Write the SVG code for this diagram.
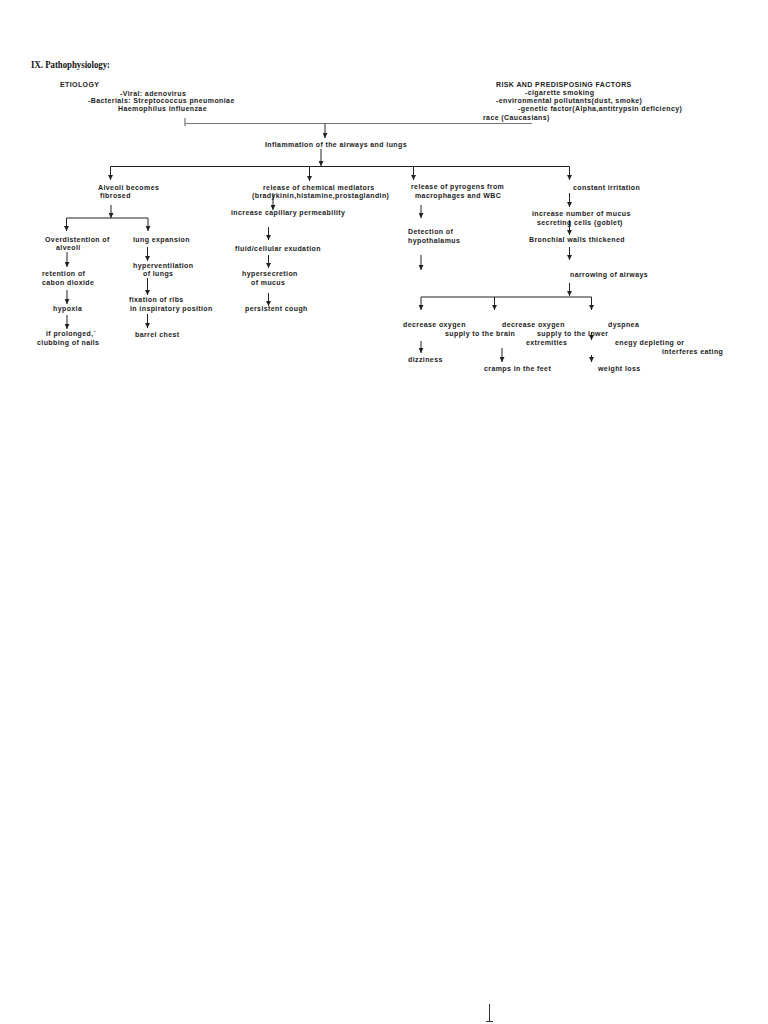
<svg xmlns="http://www.w3.org/2000/svg" width="768" height="1024" viewBox="0 0 768 1024">
<style>
text{font-family:"Liberation Sans",Arial,sans-serif;font-size:7px;font-weight:bold;fill:#222;letter-spacing:0.4px}
.h{font-family:"Liberation Serif","Times New Roman",serif;font-size:9.5px;font-weight:bold;fill:#111;letter-spacing:0}
.c line,.c polyline{stroke:#222;stroke-width:1;fill:none}
.a{marker-end:url(#ah)}
</style>
<defs>
<marker id="ah" viewBox="0 0 6 6" refX="6" refY="3" markerWidth="5" markerHeight="5" markerUnits="userSpaceOnUse" orient="auto"><path d="M0,0 L6,3 L0,6 z" fill="#222"/></marker>
</defs>
<rect width="768" height="1024" fill="#fff"/>
<text class="h" x="31" y="68" textLength="79" lengthAdjust="spacingAndGlyphs">IX. Pathophysiology:</text>

<g id="etiology">
<text x="60" y="86.5">ETIOLOGY</text>
<text x="120" y="95.5">-Viral: adenovirus</text>
<text x="88" y="103">-Bacterials: Streptococcus pneumoniae</text>
<text x="118" y="111">Haemophilus influenzae</text>
</g>
<g id="risk">
<text x="496" y="86.5">RISK AND PREDISPOSING FACTORS</text>
<text x="525" y="94.5">-cigarette smoking</text>
<text x="496" y="102.5">-environmental pollutants(dust, smoke)</text>
<text x="518" y="110.5">-genetic factor(Alpha,antitrypsin deficiency)</text>
<text x="483" y="119.5">race (Caucasians)</text>
</g>
<g id="inflammation"><text x="265" y="146.5">Inflammation of the airways and lungs</text></g>

<g id="alveoli"><text x="98" y="189.5">Alveoli becomes</text><text x="100" y="197.5">fibrosed</text></g>
<g id="overdistention"><text x="45" y="241.5">Overdistention of</text><text x="56" y="249.5">alveoli</text></g>
<g id="retention"><text x="42" y="275.5">retention of</text><text x="42" y="284.5">cabon dioxide</text></g>
<g id="hypoxia"><text x="53" y="310.5">hypoxia</text></g>
<g id="clubbing"><text x="46" y="335.5">if prolonged,`</text><text x="37" y="344.5">clubbing of nails</text></g>
<g id="lungexp"><text x="133" y="241.5">lung expansion</text></g>
<g id="hypervent"><text x="133" y="267.5">hyperventilation</text><text x="143" y="275.5">of lungs</text></g>
<g id="fixation"><text x="129" y="301.5">fixation of ribs</text><text x="130" y="310.5">in inspiratory position</text></g>
<g id="barrel"><text x="135" y="336.5">barrel chest</text></g>

<g id="chemical"><text x="263" y="189.5">release of chemical mediators</text><text x="252" y="197.5">(bradykinin,histamine,prostaglandin)</text></g>
<g id="capillary"><text x="231" y="214.5">increase capillary permeability</text></g>
<g id="exudation"><text x="235" y="250.5">fluid/cellular exudation</text></g>
<g id="hypersecretion"><text x="242" y="275.5">hypersecretion</text><text x="251" y="284.5">of mucus</text></g>
<g id="cough"><text x="245" y="310.5">persistent cough</text></g>

<g id="pyrogens"><text x="411" y="188.5">release of pyrogens from</text><text x="415" y="197.5">macrophages and WBC</text></g>
<g id="detection"><text x="408" y="233.5">Detection of</text><text x="408" y="242.5">hypothalamus</text></g>

<g id="irritation"><text x="573" y="189.5">constant irritation</text></g>
<g id="goblet"><text x="532" y="215.5">increase number of mucus</text><text x="537" y="224.5">secreting cells (goblet)</text></g>
<g id="bronchial"><text x="529" y="241.5">Bronchial walls thickened</text></g>
<g id="narrowing"><text x="570" y="276.5">narrowing of airways</text></g>
<g id="brain"><text x="403" y="326.5">decrease oxygen</text><text x="445" y="335.5">supply to the brain</text></g>
<g id="lower"><text x="502" y="326.5">decrease oxygen</text><text x="537" y="335.5">supply to the lower</text><text x="526" y="344.5">extremities</text></g>
<g id="dyspnea"><text x="608" y="326.5">dyspnea</text></g>
<g id="energy"><text x="615" y="344.5">enegy depleting or</text><text x="662" y="353.5">interferes eating</text></g>
<g id="dizziness"><text x="408" y="361.5">dizziness</text></g>
<g id="cramps"><text x="484" y="370.5">cramps in the feet</text></g>
<g id="weight"><text x="598" y="370.5">weight loss</text></g>

<g class="c" id="connectors">
<line x1="185" y1="118" x2="185" y2="126" style="stroke:#555"/>
<line x1="185" y1="123.5" x2="532" y2="123.5" style="stroke:#777"/>
<line class="a" x1="325" y1="124" x2="325" y2="138"/>
<line class="a" x1="321" y1="149" x2="321" y2="166"/>
<line x1="110.5" y1="166.5" x2="569.5" y2="166.5"/>
<line class="a" x1="110.5" y1="166.5" x2="110.5" y2="180"/>
<line class="a" x1="309.5" y1="166.5" x2="309.5" y2="181"/>
<line class="a" x1="413.5" y1="166.5" x2="413.5" y2="180"/>
<line class="a" x1="569.5" y1="166.5" x2="569.5" y2="180"/>

<line class="a" x1="111" y1="205" x2="111" y2="218"/>
<line x1="66.5" y1="218" x2="148" y2="218"/>
<line class="a" x1="66.5" y1="218" x2="66.5" y2="231"/>
<line class="a" x1="148" y1="218" x2="148" y2="231"/>
<line class="a" x1="67" y1="252" x2="67" y2="267"/>
<line class="a" x1="67" y1="290" x2="67" y2="304"/>
<line class="a" x1="67" y1="315" x2="67" y2="329"/>
<line class="a" x1="147.5" y1="247" x2="147.5" y2="261"/>
<line class="a" x1="147.5" y1="278" x2="147.5" y2="295"/>
<line class="a" x1="147.5" y1="314" x2="147.5" y2="328"/>

<line class="a" x1="273" y1="193" x2="273" y2="210"/>
<line class="a" x1="268.5" y1="227" x2="268.5" y2="240"/>
<line class="a" x1="268.5" y1="255" x2="268.5" y2="268"/>
<line class="a" x1="268.5" y1="293" x2="268.5" y2="306"/>

<line class="a" x1="421" y1="205" x2="421" y2="218"/>
<line class="a" x1="421" y1="255" x2="421" y2="270"/>

<line class="a" x1="569.5" y1="193" x2="569.5" y2="207"/>
<line class="a" x1="569.5" y1="220" x2="569.5" y2="235"/>
<line class="a" x1="569.5" y1="247" x2="569.5" y2="260"/>
<line class="a" x1="569.5" y1="283" x2="569.5" y2="296"/>
<line x1="421" y1="297" x2="591.5" y2="297"/>
<line class="a" x1="421" y1="297" x2="421" y2="310"/>
<line class="a" x1="494.5" y1="297" x2="494.5" y2="310"/>
<line class="a" x1="591.5" y1="297" x2="591.5" y2="310"/>
<line class="a" x1="591.5" y1="332" x2="591.5" y2="340"/>
<line class="a" x1="421" y1="341" x2="421" y2="353"/>
<line class="a" x1="502" y1="348" x2="502" y2="362"/>
<line class="a" x1="591.5" y1="355" x2="591.5" y2="362"/>
</g>
<line x1="489.5" y1="1004" x2="489.5" y2="1021" stroke="#333" stroke-width="1"/>
<line x1="486" y1="1021.5" x2="493" y2="1021.5" stroke="#333" stroke-width="1"/>
</svg>
